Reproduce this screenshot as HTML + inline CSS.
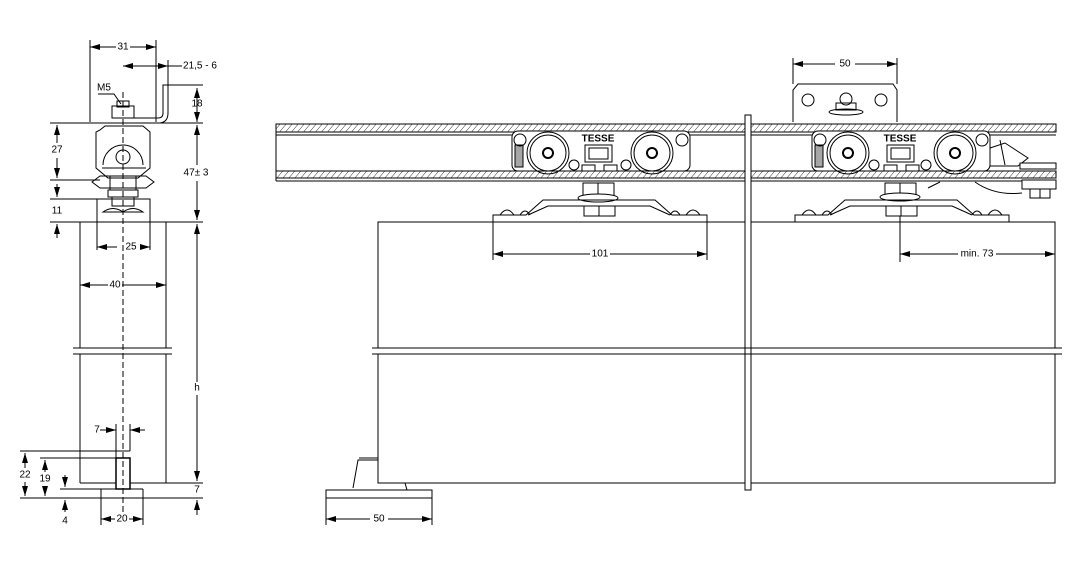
<!DOCTYPE html>
<html><head><meta charset="utf-8"><style>
html,body{margin:0;padding:0;background:#fff;}
svg{display:block;}
text{font-family:"Liberation Sans",sans-serif;font-size:10px;fill:#000;text-anchor:middle;dominant-baseline:middle;}
</style></head><body>
<svg width="1079" height="582" viewBox="0 0 1079 582" xmlns="http://www.w3.org/2000/svg">
<defs>
<pattern id="h" width="6" height="8" patternUnits="userSpaceOnUse" patternTransform="skewX(-40)">
<rect width="6" height="8" fill="#fff"/><line x1="0" y1="0" x2="0" y2="8" stroke="#000" stroke-width="1"/>
</pattern>
<marker id="a" viewBox="0 0 10 6" refX="10" refY="3" markerWidth="10" markerHeight="6" orient="auto-start-reverse" markerUnits="userSpaceOnUse"><path d="M0,0L10,3L0,6z" fill="#000"/></marker>
</defs>
<g stroke="#000" stroke-width="1" fill="none">
<!-- LEFT VIEW -->
<line x1="123" y1="92" x2="123" y2="515" stroke-dasharray="6,3"/>
<line x1="90" y1="40" x2="90" y2="122"/><line x1="156" y1="40" x2="156" y2="122"/>
<line x1="90" y1="47" x2="116" y2="47" marker-start="url(#a)"/><line x1="130" y1="47" x2="156" y2="47" marker-end="url(#a)"/>
<line x1="123" y1="66" x2="168" y2="66" marker-start="url(#a)" marker-end="url(#a)"/><line x1="168" y1="66" x2="182" y2="66"/>
<line x1="168" y1="60" x2="168" y2="85"/>
<path d="M203,85 L163,85 L163,113 Q163,118 158,118 L112,118"/>
<path d="M168,85 L168,113 Q168,122 160,123"/>
<path d="M98,94 L114,94 L121,104"/>
<rect x="112" y="106" width="22" height="12"/><rect x="117" y="101" width="12" height="6"/>
<line x1="50" y1="123" x2="203" y2="123"/>
<line x1="197" y1="88" x2="197" y2="122" marker-start="url(#a)" marker-end="url(#a)"/>
<line x1="57" y1="125" x2="57" y2="143" marker-start="url(#a)"/><line x1="57" y1="158" x2="57" y2="178" marker-end="url(#a)"/>
<line x1="197" y1="125" x2="197" y2="165" marker-start="url(#a)"/><line x1="197" y1="181" x2="197" y2="220" marker-end="url(#a)"/>
<path d="M100,130 L105,126 L143,126 L150,132 L150,168 L138,178 L108,178 L96,168 L96,132z"/>
<path d="M102,168 L146,168"/>
<path d="M103,165 A20,20 0 0 1 143,165"/>
<circle cx="123" cy="157" r="7"/>
<path d="M92,182 L100,176 L146,176 L154,182 L146,188 L100,188z"/>
<rect x="110" y="176" width="26" height="14"/>
<rect x="108" y="190" width="30" height="7"/>
<rect x="112" y="197" width="22" height="9"/>
<line x1="50" y1="180" x2="100" y2="180"/>
<line x1="50" y1="199" x2="150" y2="199"/>
<rect x="97" y="199" width="53" height="23"/>
<path d="M103,212 Q113,205 123,212 Q133,205 143,212 Z"/>
<line x1="57" y1="184" x2="57" y2="197" marker-end="url(#a)"/>
<line x1="57" y1="238" x2="57" y2="224" marker-end="url(#a)"/>
<line x1="50" y1="222" x2="203" y2="222"/>
<line x1="97" y1="222" x2="97" y2="250"/><line x1="150" y1="222" x2="150" y2="250"/>
<line x1="97" y1="247" x2="117" y2="247" marker-start="url(#a)"/><line x1="140" y1="247" x2="150" y2="247" marker-end="url(#a)"/>
<line x1="80" y1="222" x2="80" y2="348"/><line x1="166" y1="222" x2="166" y2="348"/>
<line x1="80" y1="354" x2="80" y2="483"/><line x1="166" y1="354" x2="166" y2="483"/>
<line x1="80" y1="285" x2="108" y2="285" marker-start="url(#a)"/><line x1="122" y1="285" x2="166" y2="285" marker-end="url(#a)"/>
<line x1="73" y1="348" x2="172" y2="348"/><line x1="73" y1="354" x2="172" y2="354"/>
<line x1="130" y1="483" x2="203" y2="483"/><line x1="80" y1="483" x2="116" y2="483"/>
<line x1="197" y1="224" x2="197" y2="382" marker-start="url(#a)"/><line x1="197" y1="395" x2="197" y2="481" marker-end="url(#a)"/>
<line x1="197" y1="515" x2="197" y2="500" marker-end="url(#a)"/>
<line x1="116" y1="424" x2="116" y2="458"/><line x1="130" y1="424" x2="130" y2="451"/>
<line x1="100" y1="430" x2="116" y2="430" marker-end="url(#a)"/><line x1="145" y1="430" x2="130" y2="430" marker-end="url(#a)"/>
<line x1="20" y1="451" x2="130" y2="451"/><line x1="40" y1="458" x2="116" y2="458"/>
<rect x="116" y="458" width="14" height="31" stroke-width="1.5"/>
<line x1="60" y1="489" x2="143" y2="489"/>
<line x1="101" y1="489" x2="101" y2="525"/><line x1="143" y1="489" x2="143" y2="525"/>
<line x1="20" y1="498" x2="203" y2="498"/>
<line x1="25" y1="453" x2="25" y2="468" marker-start="url(#a)"/><line x1="25" y1="482" x2="25" y2="496" marker-end="url(#a)"/>
<line x1="45" y1="460" x2="45" y2="472" marker-start="url(#a)"/><line x1="45" y1="486" x2="45" y2="496" marker-end="url(#a)"/>
<line x1="65" y1="475" x2="65" y2="487" marker-end="url(#a)"/><line x1="65" y1="512" x2="65" y2="500" marker-end="url(#a)"/>
<line x1="101" y1="519" x2="115" y2="519" marker-start="url(#a)"/><line x1="129" y1="519" x2="143" y2="519" marker-end="url(#a)"/>

<!-- RIGHT VIEW track -->
<rect x="276" y="124" width="780" height="8" fill="url(#h)"/>
<line x1="276" y1="135" x2="1056" y2="135"/>
<rect x="276" y="171" width="780" height="7" fill="url(#h)"/>
<line x1="276" y1="181" x2="1056" y2="181"/>
<line x1="276" y1="124" x2="276" y2="181"/>
<rect x="745" y="115" width="6" height="375" fill="#fff"/>
<g>
<rect x="512" y="131" width="178" height="40" rx="6" fill="#fff"/>
<circle cx="548" cy="153" r="21"/><circle cx="548" cy="153" r="18"/><circle cx="548" cy="153" r="5" stroke-width="2"/>
<circle cx="652" cy="153" r="21"/><circle cx="652" cy="153" r="18"/><circle cx="652" cy="153" r="5" stroke-width="2"/>
<circle cx="520" cy="140" r="6"/><circle cx="682" cy="140" r="6"/>
<circle cx="574" cy="165" r="5"/><circle cx="626" cy="165" r="5"/>
<rect x="585" y="145" width="27" height="17"/><rect x="589" y="148" width="19" height="11"/>
<rect x="582" y="165" width="13" height="6"/><rect x="604" y="165" width="13" height="6"/>
<rect x="515" y="145" width="8" height="22" fill="#000" fill-opacity="0.35"/>
<rect x="583" y="183" width="31" height="15"/><line x1="598" y1="183" x2="598" y2="198"/>
<ellipse cx="598" cy="198" rx="20" ry="4" fill="#fff"/>
<path d="M493,222 L493,215 L526,215 L543,200 L655,200 L672,215 L707,215 L707,222"/>
<path d="M528,215 L548,206 L650,206 L670,215"/>
<rect x="584" y="206" width="31" height="10"/><line x1="599" y1="206" x2="599" y2="216"/>
<path d="M500,215 Q507,205 514,215 M520,215 Q525,207 530,215 M670,215 Q675,207 680,215 M686,215 Q693,205 700,215"/>
</g>
<rect x="378" y="222" width="367" height="126"/>
<rect x="751" y="222" width="304" height="126"/>
<rect x="378" y="354" width="367" height="129"/>
<rect x="751" y="354" width="304" height="129"/>
<line x1="372" y1="348" x2="1062" y2="348"/><line x1="372" y1="354" x2="1062" y2="354"/>
<line x1="493" y1="222" x2="493" y2="260"/><line x1="707" y1="222" x2="707" y2="260"/>
<line x1="493" y1="254" x2="590" y2="254" marker-start="url(#a)"/><line x1="610" y1="254" x2="707" y2="254" marker-end="url(#a)"/>
<g transform="translate(300,0)">
<rect x="512" y="131" width="178" height="40" rx="6" fill="#fff"/>
<circle cx="548" cy="153" r="21"/><circle cx="548" cy="153" r="18"/><circle cx="548" cy="153" r="5" stroke-width="2"/>
<circle cx="655" cy="153" r="21"/><circle cx="655" cy="153" r="18"/><circle cx="655" cy="153" r="5" stroke-width="2"/>
<circle cx="520" cy="140" r="6"/><circle cx="682" cy="140" r="6"/>
<circle cx="574" cy="165" r="5"/><circle cx="626" cy="165" r="5"/>
<rect x="587" y="145" width="27" height="17"/><rect x="591" y="148" width="19" height="11"/>
<rect x="584" y="165" width="13" height="6"/><rect x="606" y="165" width="13" height="6"/>
<rect x="515" y="145" width="8" height="22" fill="#000" fill-opacity="0.35"/>
<rect x="585" y="183" width="31" height="15"/><line x1="600" y1="183" x2="600" y2="198"/>
<ellipse cx="600" cy="197" rx="20" ry="4" fill="#fff"/>
<path d="M495,222 L495,215 L528,215 L545,200 L657,200 L674,215 L709,215 L709,222"/>
<path d="M530,215 L550,206 L652,206 L672,215"/>
<rect x="586" y="206" width="31" height="10"/><line x1="601" y1="206" x2="601" y2="216"/>
<path d="M502,215 Q509,205 516,215 M522,215 Q527,207 532,215 M672,215 Q677,207 682,215 M688,215 Q695,205 702,215"/>
</g>
<path d="M990,148 L1005,143 L1028,158 L1018,166 L990,166z" fill="#fff"/>
<path d="M1000,140 L1005,165"/>
<rect x="1020" y="163" width="36" height="6" fill="#fff"/>
<rect x="1022" y="180" width="34" height="9" fill="#fff"/>
<rect x="1030" y="189" width="20" height="9"/><line x1="1040" y1="189" x2="1040" y2="198"/>
<path d="M928,188 L940,182 M975,182 Q995,196 1022,193"/>
<path d="M793,122 L793,90 L798,84 L893,84 L897,90 L897,122" fill="#fff"/>
<circle cx="808" cy="100" r="6"/><circle cx="881" cy="100" r="6"/><circle cx="846" cy="99" r="6"/>
<rect x="836" y="103" width="20" height="7"/><ellipse cx="846" cy="112" rx="17" ry="3"/>
<line x1="793" y1="58" x2="793" y2="84"/><line x1="897" y1="58" x2="897" y2="84"/>
<line x1="793" y1="64" x2="835" y2="64" marker-start="url(#a)"/><line x1="855" y1="64" x2="897" y2="64" marker-end="url(#a)"/>
<line x1="900" y1="216" x2="900" y2="262"/><line x1="1055" y1="250" x2="1055" y2="262"/>
<line x1="900" y1="254" x2="958" y2="254" marker-start="url(#a)"/><line x1="996" y1="254" x2="1055" y2="254" marker-end="url(#a)"/>
<path d="M353,488 L358,460 L378,460 M359,458 L378,458"/>
<path d="M326,498 L326,490 L432,490 L432,498"/>
<line x1="326" y1="498" x2="432" y2="498"/>
<line x1="405" y1="483" x2="407" y2="490"/>
<line x1="326" y1="498" x2="326" y2="525"/><line x1="432" y1="498" x2="432" y2="525"/>
<line x1="326" y1="519" x2="370" y2="519" marker-start="url(#a)"/><line x1="388" y1="519" x2="432" y2="519" marker-end="url(#a)"/>
</g>
<g font-size="10">
<text x="123" y="47">31</text>
<text x="200" y="66">21,5 - 6</text>
<text x="104" y="88">M5</text>
<text x="197" y="104">18</text>
<text x="57" y="150">27</text>
<text x="196" y="173">47± 3</text>
<text x="57" y="211">11</text>
<text x="131" y="247">25</text>
<text x="115" y="285">40</text>
<text x="197" y="388">h</text>
<text x="197" y="490">7</text>
<text x="97" y="430">7</text>
<text x="25" y="475">22</text>
<text x="45" y="479">19</text>
<text x="65" y="521">4</text>
<text x="122" y="519">20</text>
<text x="600" y="254">101</text>
<text x="845" y="64">50</text>
<text x="977" y="254">min. 73</text>
<text x="379" y="519">50</text>
<text x="598" y="139" font-size="6" font-weight="bold">TESSE</text>
<text x="900" y="139" font-size="6" font-weight="bold">TESSE</text>
</g>
</svg>
</body></html>
